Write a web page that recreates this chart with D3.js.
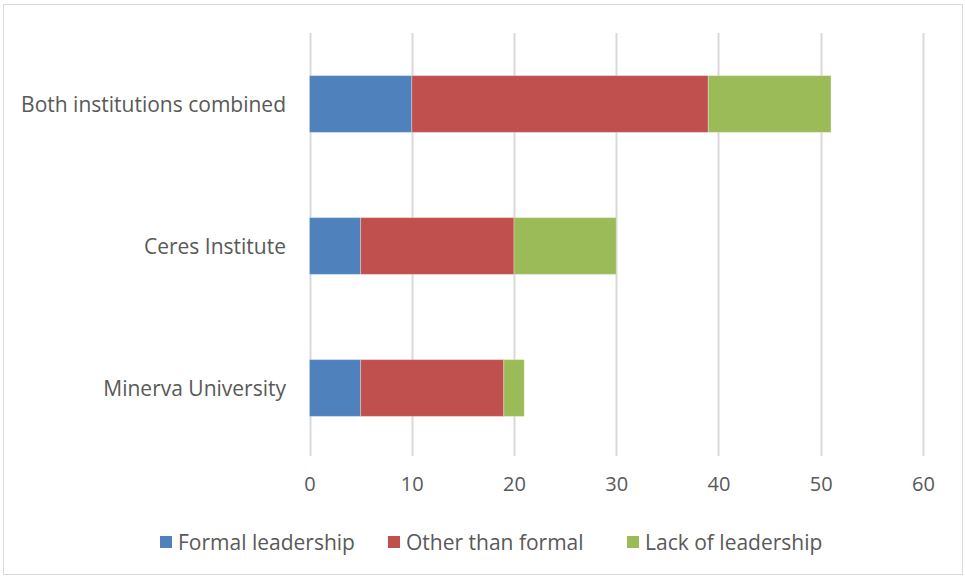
<!DOCTYPE html>
<html>
<head>
<meta charset="utf-8">
<script src="https://cdn.jsdelivr.net/npm/d3@7"></script>
<style>
  html, body { margin: 0; padding: 0; background: #fff; }
  svg text { font-family: "Open Sans", "Noto Sans", sans-serif; fill: #595959; }
</style>
</head>
<body>
<svg id="chart" width="965" height="578"></svg>
<script>
// Institutions, top to bottom
const categories = ["Both institutions combined", "Ceres Institute", "Minerva University"];
// Stacked series values per institution
const formalLeadership = [10, 5, 5];
const otherThanFormal = [29, 15, 14];
const lackOfLeadership = [12, 10, 2];
const seriesNames = ["Formal leadership", "Other than formal", "Lack of leadership"];
const seriesColors = ["#4F81BD", "#C0504D", "#9BBB59"];
const xTicks = [0, 10, 20, 30, 40, 50, 60];

const svg = d3.select("#chart");

// Outer chart border
svg.append("rect")
  .attr("x", 3.5).attr("y", 4.5)
  .attr("width", 959).attr("height", 570)
  .attr("fill", "none").attr("stroke", "#d9d9d9").attr("stroke-width", 1);

const plot = { left: 309.5, right: 923, top: 33, bottom: 459 };

const x = d3.scaleLinear().domain([0, 60]).range([plot.left, plot.right]);
const y = d3.scaleBand().domain(categories)
  .range([plot.top, plot.bottom])
  .paddingInner(0.6).paddingOuter(0.3);

// Vertical gridlines
svg.append("g").selectAll("line").data(xTicks).join("line")
  .attr("x1", d => Math.round(x(d)) + 0.5).attr("x2", d => Math.round(x(d)) + 0.5)
  .attr("y1", plot.top).attr("y2", 456)
  .attr("stroke", "#d9d9d9").attr("stroke-width", 2);

// Stack the series
const rows = categories.map((c, i) => ({
  cat: c,
  "Formal leadership": formalLeadership[i],
  "Other than formal": otherThanFormal[i],
  "Lack of leadership": lackOfLeadership[i]
}));
const stacked = d3.stack().keys(seriesNames)(rows);

svg.append("g").selectAll("g").data(stacked).join("g")
  .attr("fill", (d, i) => seriesColors[i])
  .selectAll("rect").data(d => d).join("rect")
  .attr("x", d => x(d[0]))
  .attr("width", d => x(d[1]) - x(d[0]))
  .attr("y", d => y(d.data.cat))
  .attr("height", y.bandwidth())
  .attr("stroke", "#ffffff").attr("stroke-opacity", 0.3).attr("stroke-width", 1);

// Category labels
svg.append("g").selectAll("text").data(categories).join("text")
  .attr("x", 286)
  .attr("y", d => y(d) + y.bandwidth() / 2)
  .attr("text-anchor", "end")
  .attr("dominant-baseline", "central")
  .attr("font-size", 21)
  .text(d => d);

// X axis tick labels
const xAxis = d3.axisBottom(x).tickValues(xTicks).tickSize(0).tickPadding(0);
const gx = svg.append("g").attr("transform", "translate(0,477)").call(xAxis);
gx.select(".domain").remove();
gx.selectAll("text").attr("font-size", 20).attr("fill", "#595959")
  .style("font-family", "'Open Sans', 'Noto Sans', sans-serif");

// Legend
const legendX = [160, 388, 627];
const legend = svg.append("g").selectAll("g").data(seriesNames).join("g")
  .attr("transform", (d, i) => `translate(${legendX[i]},536)`);
legend.append("rect").attr("width", 12).attr("height", 12)
  .attr("fill", (d, i) => seriesColors[i]);
legend.append("text").attr("x", 18).attr("y", 6)
  .attr("dominant-baseline", "central")
  .attr("font-size", 21)
  .text(d => d);
</script>
</body>
</html>
